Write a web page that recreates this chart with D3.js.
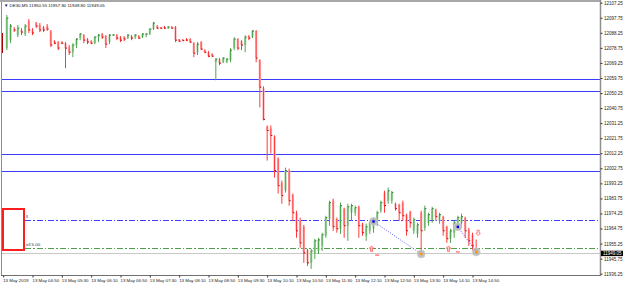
<!DOCTYPE html>
<html>
<head>
<meta charset="utf-8">
<script src="https://cdn.jsdelivr.net/npm/d3@7"></script>
<style>
body{margin:0;background:#fff;}
svg{display:block;font-family:"Liberation Sans",Arial,sans-serif;}
</style>
</head>
<body>
<div id="chart"></div>
<script>
// DE30,M5 - 13 May 2019, bars from 04:15 to 14:55
const firstBar = "04:15";
const open = [
12078.6,12083.6,12090.6,12086.8,12090.0,12087.5,12095.7,12090.0,12094.4,12093.2,
12091.9,12092.5,12089.4,12083.0,12082.4,12082.4,12081.7,12079.2,12076.0,12080.5,
12084.9,12086.8,12084.3,12083.0,12081.7,12085.5,12087.5,12086.2,12082.4,12086.8,
12086.8,12085.5,12085.5,12084.9,12086.2,12085.5,12086.2,12085.5,12086.8,12087.5,
12090.6,12092.5,12091.6,12091.9,12091.2,12091.9,12091.9,12084.3,12084.0,12084.3,
12084.3,12081.7,12076.0,12082.4,12077.3,12076.0,12074.8,12069.7,12071.6,12069.7,
12069.7,12071.0,12078.6,12084.3,12083.0,12080.5,12086.2,12085.5,12089.4,12071.0,
12053.2,12029.2,12027.9,12022.8,12008.9,11993.7,11988.7,12001.3,11986.1,11974.7,
11969.6,11965.9,11951.3,11943.1,11949.4,11950.6,11953.8,11960.2,11970.9,11982.3,
11970.9,11964.6,11977.3,11966.5,11974.7,11974.7,11978.5,11967.8,11960.2,11963.3,
11964.6,11968.4,11976.0,11987.4,11982.3,11982.3,11980.4,11979.8,11981.1,11973.5,
11975.4,11963.3,11961.4,11974.7,11965.2,11968.4,11970.3,11976.6,11969.6,11972.2,
11965.9,11958.3,11962.1,11967.1,11968.4,11971.6,11964.0,11960.8,11950.55];
const high = [
12099.5,12093.8,12091.9,12093.2,12091.2,12093.8,12097.0,12091.2,12095.1,12094.4,
12092.5,12093.8,12090.0,12083.6,12083.0,12083.0,12082.4,12080.5,12081.7,12084.9,
12088.1,12087.5,12084.9,12083.6,12086.2,12087.5,12088.1,12086.8,12087.5,12087.5,
12087.5,12086.2,12086.2,12087.5,12086.8,12087.5,12086.8,12088.1,12088.1,12091.2,
12095.1,12093.2,12091.9,12092.5,12092.5,12092.5,12092.5,12084.3,12084.3,12084.9,
12084.9,12082.4,12082.4,12083.0,12077.9,12076.7,12075.4,12072.3,12072.3,12072.9,
12072.3,12078.6,12085.5,12084.9,12083.6,12086.8,12086.8,12090.0,12090.0,12071.6,
12054.5,12029.8,12029.8,12023.5,12009.6,11995.0,12003.2,12002.6,11986.8,11976.0,
11971.6,11967.1,11951.9,11951.9,11958.3,11958.9,11962.1,11972.8,11982.3,11983.6,
11971.6,11981.1,11977.9,11980.4,11980.4,11979.2,11979.2,11968.4,11967.8,11969.6,
11971.6,11976.0,11982.3,11988.6,11990.6,11988.6,11981.1,11980.4,11982.3,11974.1,
11976.0,11971.6,11968.4,11976.0,11979.2,11974.7,11978.5,11977.3,11974.7,11972.8,
11966.5,11964.6,11969.6,11972.8,11974.1,11972.2,11965.2,11962.1,11957.8];
const low = [
12077.3,12081.7,12088.7,12085.5,12086.8,12086.2,12088.1,12086.8,12091.2,12088.7,
12088.7,12089.4,12079.2,12081.1,12077.3,12081.1,12065.9,12074.2,12072.9,12078.6,
12083.6,12081.7,12081.1,12081.1,12081.1,12082.4,12084.3,12078.6,12081.1,12086.2,
12083.6,12082.4,12083.0,12084.3,12083.6,12084.3,12084.3,12084.9,12085.5,12086.8,
12090.0,12090.6,12090.6,12090.6,12090.6,12090.6,12082.4,12082.4,12083.0,12083.0,
12081.7,12072.9,12074.2,12077.3,12075.4,12072.9,12072.9,12058.3,12067.8,12069.1,
12069.1,12069.7,12077.3,12077.3,12077.3,12076.0,12083.6,12084.9,12069.7,12041.2,
12033.0,12007.6,12012.1,11996.9,11986.8,11980.4,11987.4,11979.2,11969.6,11958.9,
11952.6,11943.1,11941.2,11939.3,11945.6,11948.7,11950.6,11958.9,11966.5,11963.3,
11962.1,11961.4,11958.9,11957.0,11969.6,11972.8,11958.9,11960.2,11957.0,11961.4,
11962.1,11966.5,11974.7,11974.7,11980.4,11980.4,11976.0,11969.6,11969.6,11960.2,
11965.2,11961.4,11958.9,11948.7,11963.3,11966.5,11968.4,11969.6,11967.8,11960.2,
11955.7,11955.7,11958.9,11964.6,11965.2,11958.9,11953.8,11950.6,11948.8];
const close = [
12097.6,12092.5,12090.0,12091.2,12088.7,12092.5,12090.0,12088.1,12092.5,12090.0,
12090.0,12090.6,12080.5,12081.7,12078.6,12081.7,12078.6,12076.0,12080.5,12084.3,
12087.5,12083.6,12082.4,12081.7,12085.5,12086.8,12085.5,12081.1,12086.8,12086.9,
12084.9,12083.6,12084.3,12086.8,12084.9,12086.8,12084.9,12087.5,12087.5,12090.6,
12094.4,12091.2,12091.2,12091.2,12091.9,12091.2,12083.6,12083.0,12083.3,12083.6,
12082.4,12075.4,12081.1,12078.0,12076.0,12073.5,12073.5,12071.6,12069.1,12072.3,
12071.6,12077.3,12084.3,12078.6,12080.5,12085.5,12084.9,12089.4,12072.3,12053.9,
12033.6,12026.6,12023.5,12001.3,11991.8,11985.5,12001.3,11982.3,11974.7,11963.3,
11955.7,11949.4,11943.1,11950.6,11957.0,11957.6,11960.8,11971.6,11981.1,11965.9,
11964.6,11979.2,11966.5,11978.5,11979.2,11977.9,11966.5,11962.1,11965.9,11968.4,
11969.6,11974.7,11981.1,11979.2,11988.6,11987.4,11977.3,11974.7,11972.8,11963.3,
11968.4,11970.3,11967.1,11963.3,11977.3,11973.5,11977.3,11972.2,11973.5,11963.3,
11958.3,11963.3,11968.4,11971.6,11972.2,11963.3,11957.0,11953.8,11949.05];

const priceTicks = [12107.25,12097.75,12088.25,12078.75,12069.25,12059.75,12050.25,12040.75,
  12031.25,12021.75,12012.25,12002.75,11993.25,11983.75,11974.25,11964.75,11955.25,11945.75,11936.25];
const timeTicks = ["04:10","04:50","05:30","06:10","06:50","07:30","08:10","08:50","09:30",
  "10:10","10:50","11:30","12:10","12:50","13:30","14:10","14:50"];
const timeLabels = ["13 May 2019","13 May 04:50","13 May 05:30","13 May 06:10","13 May 06:50",
  "13 May 07:30","13 May 08:10","13 May 08:50","13 May 09:30","13 May 10:10","13 May 10:50",
  "13 May 11:30","13 May 12:10","13 May 12:50","13 May 13:30","13 May 14:10","13 May 14:50"];

const levels = [12059.1, 12051.8, 12011.9, 12001.1];   // blue horizontal lines
const entryLevel = 11970.1;   // blue dash-dot
const tpLevel = 11952.3;      // green dash-dot
const bid = 11949.05;
const title = "DE30,M5  11950.55 11957.80 11948.80 11949.05";

// trade markers: [time, price, type]
const trades = [["12:35",11969.2,"buy"],["13:40",11948.7,"close"],["14:30",11965.8,"buy"],["14:55",11950.0,"close"]];
const arrowsUp = [["12:35",11951.9],["14:20",11951.9]];
const arrowsDown = [["14:55",11962.2]];
const dashes = [["12:40",11948.0],["14:30",11950.0]];

const W = 625, H = 286;
const day = (s) => { const p = s.split(":"); return new Date(2019,4,13,+p[0],+p[1]); };

const svg = d3.select("#chart").append("svg").attr("width", W).attr("height", H);

const x = d3.scaleTime().domain([day("04:50"), day("14:50")]).range([32.5, 472.5]);
const y = d3.scaleLinear().domain([11936.25, 12107.25]).range([273.7, 2.7]);

const t0 = day(firstBar);
const bars = open.map((o, i) => ({
  t: d3.timeMinute.offset(t0, 5*i), o: o, h: high[i], l: low[i], c: close[i]
}));

const plot = svg.append("g");
plot.append("defs").append("clipPath").attr("id","clip")
  .append("rect").attr("x",2).attr("y",2).attr("width",598).attr("height",273);
const g = plot.append("g").attr("clip-path","url(#clip)");

// horizontal levels
g.selectAll(".lvl").data(levels).join("line").attr("class","lvl")
  .attr("x1",2).attr("x2",600).attr("y1",d=>Math.round(y(d))+0.5).attr("y2",d=>Math.round(y(d))+0.5)
  .attr("stroke","#3c3cff").attr("stroke-width",1).attr("shape-rendering","crispEdges");
g.append("line").attr("x1",2).attr("x2",600)
  .attr("y1",Math.round(y(entryLevel))+0.5).attr("y2",Math.round(y(entryLevel))+0.5)
  .attr("stroke","#3c3cff").attr("stroke-dasharray","6,2,1.5,2").attr("shape-rendering","crispEdges");
g.append("line").attr("x1",2).attr("x2",600)
  .attr("y1",Math.round(y(tpLevel))+0.5).attr("y2",Math.round(y(tpLevel))+0.5)
  .attr("stroke","#4e9e4e").attr("stroke-dasharray","6,2,1.5,2").attr("shape-rendering","crispEdges");
g.append("line").attr("x1",2).attr("x2",600)
  .attr("y1",Math.round(y(bid))+0.5).attr("y2",Math.round(y(bid))+0.5)
  .attr("stroke","#c8c8c8").attr("shape-rendering","crispEdges");

// bars
const up = d => d.c >= d.o;
const bg = g.append("g");
bg.selectAll(".body").data(bars).join("rect").attr("class","body")
  .attr("x", d => x(d.t) - 1.2).attr("width", 2.4)
  .attr("y", d => y(Math.max(d.o,d.c)))
  .attr("height", d => Math.max(0.8, Math.abs(y(d.o) - y(d.c))))
  .attr("fill", d => up(d) ? "#b4dcb4" : "#ffb8b8");
bg.selectAll(".wick").data(bars).join("line").attr("class","wick")
  .attr("x1", d => x(d.t)).attr("x2", d => x(d.t))
  .attr("y1", d => y(d.h)).attr("y2", d => y(d.l))
  .attr("stroke", d => up(d) ? "#4ea64e" : "#ff3c3c").attr("stroke-width", 1);
bg.selectAll(".ctick").data(bars).join("line").attr("class","ctick")
  .attr("x1", d => x(d.t)).attr("x2", d => x(d.t) + 1.5)
  .attr("y1", d => y(d.c)).attr("y2", d => y(d.c))
  .attr("stroke", d => up(d) ? "#2f7a2f" : "#c00000").attr("stroke-width", 1);

// trade lines and markers
for (let k = 0; k < trades.length; k += 2) {
  const a = trades[k], b = trades[k+1];
  g.append("line").attr("x1",x(day(a[0]))).attr("y1",y(a[1]))
    .attr("x2",x(day(b[0]))).attr("y2",y(b[1]))
    .attr("stroke","#5a5aff").attr("stroke-dasharray","1,1.5");
}
g.selectAll(".trd").data(trades).join("circle").attr("class","trd")
  .attr("cx",d=>x(day(d[0]))).attr("cy",d=>y(d[1])).attr("r",4)
  .attr("fill","#b4b4b4").attr("fill-opacity",0.85).attr("stroke","#d0d0d0").attr("stroke-width",0.8);
g.selectAll(".trdc").data(trades).join("rect").attr("class","trdc")
  .attr("x",d=>x(day(d[0]))-1.2).attr("y",d=>y(d[1])-1.2).attr("width",2.4).attr("height",2.4)
  .attr("fill",d=>d[2]==="buy" ? "#0000ff" : "#ff9a00");

const arrowUpPath = "M0,-3 L2.2,-0.6 L1,-0.6 L1,2.4 L-1,2.4 L-1,-0.6 L-2.2,-0.6 Z";
const arrowDownPath = "M0,3 L2.2,0.6 L1,0.6 L1,-2.4 L-1,-2.4 L-1,0.6 L-2.2,0.6 Z";
g.selectAll(".aup").data(arrowsUp).join("path").attr("class","aup")
  .attr("d",arrowUpPath).attr("transform",d=>`translate(${x(day(d[0]))-2},${y(d[1])})`)
  .attr("fill","#ffd0c0").attr("stroke","#ff4a4a").attr("stroke-width",0.7);
g.selectAll(".adn").data(arrowsDown).join("path").attr("class","adn")
  .attr("d",arrowDownPath).attr("transform",d=>`translate(${x(day(d[0]))+2},${y(d[1])})`)
  .attr("fill","#fff").attr("stroke","#ff4a4a").attr("stroke-width",0.7);
g.selectAll(".dsh").data(dashes).join("line").attr("class","dsh")
  .attr("x1",d=>x(day(d[0]))-2).attr("x2",d=>x(day(d[0]))+2)
  .attr("y1",d=>y(d[1])).attr("y2",d=>y(d[1]))
  .attr("stroke","#ff4040").attr("stroke-width",1);

// trade panel box
svg.append("rect").attr("x",3).attr("y",209).attr("width",21).attr("height",41)
  .attr("fill","#fff").attr("stroke","#ff1e1e").attr("stroke-width",2);
svg.append("text").attr("x",26).attr("y",218).attr("font-size",4.4).attr("fill","#333").text("ll");
svg.append("text").attr("x",26).attr("y",246).attr("font-size",4.4).attr("fill","#333").text("ell 5.00");
svg.append("rect").attr("x",1).attr("y",33).attr("width",2).attr("height",20).attr("fill","#b00000");

// frame
svg.append("line").attr("x1",0).attr("x2",601).attr("y1",1).attr("y2",1).attr("stroke","#a8a8a8").attr("stroke-width",2);
svg.append("line").attr("x1",1.5).attr("x2",1.5).attr("y1",2).attr("y2",276).attr("stroke","#8c8c8c");

// price axis
const yAxis = d3.axisRight(y).tickValues(priceTicks).tickSize(2).tickFormat(d3.format(".2f"));
const ya = svg.append("g").attr("transform","translate(600.5,0)").call(yAxis);
ya.select(".domain").attr("stroke","#909090").attr("stroke-width",1.5).attr("d","M0,0V275.5");
ya.selectAll(".tick line").attr("stroke","#333");
ya.selectAll(".tick text").attr("x",3.5).attr("font-size",4.5).attr("fill","#222").attr("font-family","Liberation Sans, Arial");

// bid label
svg.append("rect").attr("x",601).attr("y",y(bid)-2.7).attr("width",22).attr("height",5.4).attr("fill","#000");
svg.append("text").attr("x",603).attr("y",y(bid)+1.6).attr("font-size",4.5).attr("fill","#fff").text(d3.format(".2f")(bid));

// time axis
const xAxis = d3.axisBottom(x).tickValues(timeTicks.map(day)).tickSize(2)
  .tickFormat((d,i) => timeLabels[i]);
const xa = svg.append("g").attr("transform","translate(0,275.5)").call(xAxis);
xa.select(".domain").attr("stroke","#707070").attr("d","M1,0H601");
xa.selectAll(".tick line").attr("stroke","#333");
xa.selectAll(".tick text").attr("text-anchor","start").attr("x",-0.5).attr("y",3)
  .attr("font-size",4.4).attr("fill","#222").attr("font-family","Liberation Sans, Arial");

// title
svg.append("text").attr("x",4).attr("y",7).attr("font-size",4.4).attr("fill","#111")
  .text("\u25BC " + title);
</script>
</body>
</html>
